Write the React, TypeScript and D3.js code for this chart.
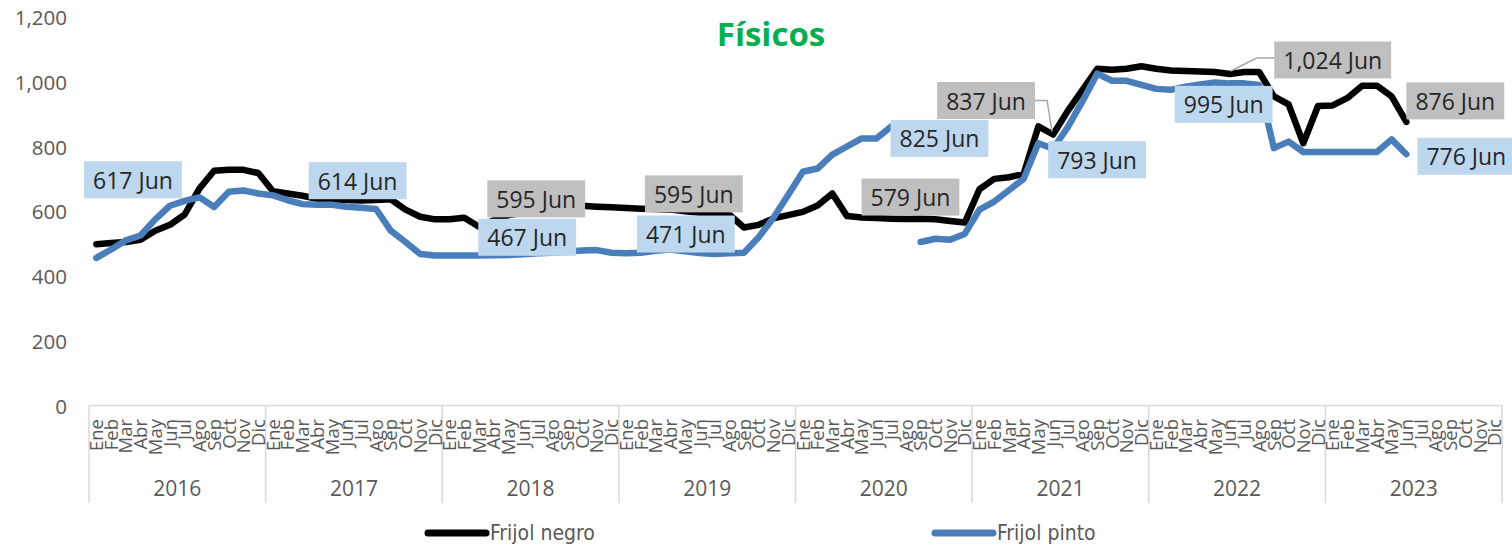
import React, { useEffect, useRef } from "react";
import * as d3 from "d3";

// --- data ---
const years = ["2016", "2017", "2018", "2019", "2020", "2021", "2022", "2023"];
const months = ["Ene", "Feb", "Mar", "Abr", "May", "Jun", "Jul", "Ago", "Sep", "Oct", "Nov", "Dic"];

// Frijol negro, monthly from Ene 2016 to Jun 2023
const negro = [
  498, 502, 505, 512, 540, 558, 590, 670, 725, 728, 728, 718,
  662, 655, 648, 638, 635, 635, 633, 635, 637, 605, 583, 575,
  575, 580, 552, 572, 588, 595, 605, 612, 617, 617, 614, 612,
  610, 608, 607, 605, 600, 595, 595, 590, 550, 558, 578, 588,
  598, 618, 655, 585, 581, 579, 577, 576, 577, 575, 570, 565,
  668, 700, 705, 715, 862, 837, 910, 975, 1040, 1037, 1040, 1048,
  1040, 1035, 1033, 1032, 1030, 1024, 1030, 1030, 955, 930, 810, 925,
  927, 950, 988, 988, 955, 876,
];

// Frijol pinto (Ago 2020 missing)
const pinto = [
  456, 482, 510, 525, 575, 617, 632, 643, 613, 660, 664, 655,
  649, 634, 622, 620, 620, 614, 611, 607, 540, 505, 468, 463,
  463, 463, 463, 464, 465, 467, 470, 472, 476, 479, 480, 472,
  470, 472, 478, 482, 476, 471, 468, 470, 472, 520, 580, 650,
  722, 732, 775, 800, 825, 825, 862, null, 505, 515, 512, 530,
  605, 630, 665, 700, 810, 793, 860, 940, 1025, 1003, 1003, 990,
  978, 975, 985, 992, 998, 995, 995, 990, 795, 815, 783, 783,
  783, 783, 783, 783, 822, 776,
];

const yTicks = [0, 200, 400, 600, 800, 1000, 1200];

// which June points carry a value label (offsets are layout only)
const junLabels = [
  { year: "2016", series: "pinto", dx: -37, dy: -26 },
  { year: "2017", series: "pinto", dx: 11, dy: -26 },
  { year: "2018", series: "negro", dx: 13, dy: -14 },
  { year: "2018", series: "pinto", dx: 4, dy: -17 },
  { year: "2019", series: "negro", dx: -6, dy: -19 },
  { year: "2019", series: "pinto", dx: -14, dy: -19 },
  { year: "2020", series: "negro", dx: 34, dy: -21 },
  { year: "2020", series: "pinto", dx: 63, dy: 0 },
  { year: "2021", series: "negro", dx: -67, dy: -34, leader: true },
  { year: "2021", series: "pinto", dx: 44, dy: 11 },
  { year: "2022", series: "negro", dx: 103, dy: -14, leader: true },
  { year: "2022", series: "pinto", dx: -6, dy: 21 },
  { year: "2023", series: "negro", dx: 49, dy: -21 },
  { year: "2023", series: "pinto", dx: 60, dy: 2 },
];

const FONT = "'Open Sans', 'Noto Sans', sans-serif";
const GREY = "#595959";

export default function App() {
  const svgRef = useRef<SVGSVGElement>(null);

  useEffect(() => {
    document.body.style.margin = "0";
    const svg = d3.select(svgRef.current);
    svg.selectAll("*").remove();

    const cats = years.flatMap((yr) => months.map((m) => `${m}-${yr}`));
    const x = d3.scalePoint<string>().domain(cats).range([89, 1502]).padding(0.5);
    const y = d3.scaleLinear().domain([0, 1200]).range([405.5, 17]);
    const step = x.step();

    const series = {
      negro: { values: negro, color: "#000000", box: "#bfbfbf" },
      pinto: { values: pinto, color: "#4a7ebb", box: "#bdd7ee" },
    };

    // --- title ---
    svg.append("text")
      .attr("x", 771).attr("y", 33)
      .attr("text-anchor", "middle").attr("dominant-baseline", "central")
      .attr("font-family", FONT).attr("font-weight", 700).attr("font-size", 33)
      .attr("fill", "#00b050")
      .text("Físicos");

    // --- y labels ---
    svg.append("g").selectAll("text")
      .data(yTicks)
      .join("text")
      .attr("x", 67).attr("y", (d) => y(d))
      .attr("text-anchor", "end").attr("dominant-baseline", "central")
      .attr("font-family", FONT).attr("font-size", 20.5).attr("fill", GREY)
      .text((d) => d3.format(",")(d));

    // --- x axis ---
    const ax = svg.append("g");
    const x0 = x(cats[0])! - step / 2;
    const x1 = x(cats[cats.length - 1])! + step / 2;
    ax.append("line")
      .attr("x1", x0).attr("x2", x1).attr("y1", y(0)).attr("y2", y(0))
      .attr("stroke", "#d9d9d9").attr("stroke-width", 1.5);

    const bounds = years.map((yr) => x(`Ene-${yr}`)! - step / 2).concat([x1]);
    ax.selectAll(".sep")
      .data(bounds)
      .join("line")
      .attr("class", "sep")
      .attr("x1", (d) => d).attr("x2", (d) => d)
      .attr("y1", y(0)).attr("y2", 503)
      .attr("stroke", "#d9d9d9").attr("stroke-width", 1.5);

    ax.selectAll(".mon")
      .data(cats)
      .join("text")
      .attr("class", "mon")
      .attr("transform", (d) => `translate(${x(d)},419) rotate(-90)`)
      .attr("dy", "0.36em")
      .attr("text-anchor", "end")
      .attr("font-family", FONT).attr("font-size", 18.5).attr("fill", GREY)
      .text((d) => d.split("-")[0]);

    ax.selectAll(".yr")
      .data(years)
      .join("text")
      .attr("class", "yr")
      .attr("x", (d) => x(`Ene-${d}`)! - step / 2 + step * 6)
      .attr("y", 488)
      .attr("text-anchor", "middle").attr("dominant-baseline", "central")
      .attr("font-family", FONT).attr("font-size", 21).attr("fill", GREY)
      .text((d) => d);

    // --- lines ---
    const line = d3.line<number | null>()
      .defined((d) => d != null)
      .x((_, i) => x(cats[i])!)
      .y((d) => y(d as number));

    Object.values(series).forEach((s) => {
      svg.append("path")
        .datum(s.values)
        .attr("d", line)
        .attr("fill", "none")
        .attr("stroke", s.color)
        .attr("stroke-width", 6.5)
        .attr("stroke-linejoin", "round")
        .attr("stroke-linecap", "round");
    });

    // --- june labels ---
    const lg = svg.append("g");
    junLabels.forEach((l) => {
      const s = series[l.series as "negro" | "pinto"];
      const idx = cats.indexOf(`Jun-${l.year}`);
      const v = s.values[idx] as number;
      const px = x(cats[idx])!;
      const py = y(v);
      const cx = px + l.dx;
      const cy = py + l.dy;
      const g = lg.append("g");
      const rect = g.append("rect").attr("fill", s.box);
      const t = g.append("text")
        .attr("x", cx).attr("y", cy)
        .attr("text-anchor", "middle").attr("dominant-baseline", "central")
        .attr("font-family", FONT).attr("font-size", 23).attr("fill", "#262626")
        .text(`${d3.format(",")(v)} Jun`);
      const w = (t.node() as SVGTextElement).getComputedTextLength() + 18;
      const h = 37;
      rect.attr("x", cx - w / 2).attr("y", cy - h / 2).attr("width", w).attr("height", h);
      if (l.leader) {
        const side = px > cx ? cx + w / 2 : cx - w / 2;
        const dir = px > cx ? 1 : -1;
        const ly = l.dx > 0 ? cy - 2 : cy;
        const elbow = l.dx > 0 ? px + 27 : px - 6;
        g.insert("path", "rect")
          .attr("d", d3.line()([[side, ly], [elbow, ly], [px - dir, py - 3]]))
          .attr("fill", "none").attr("stroke", "#a6a6a6").attr("stroke-width", 1.5);
      }
    });

    // --- legend ---
    const legend = [
      { name: "Frijol negro", color: series.negro.color, x: 428 },
      { name: "Frijol pinto", color: series.pinto.color, x: 935 },
    ];
    const leg = svg.append("g").selectAll("g").data(legend).join("g");
    leg.append("line")
      .attr("x1", (d) => d.x).attr("x2", (d) => d.x + 58)
      .attr("y1", 533).attr("y2", 533)
      .attr("stroke", (d) => d.color).attr("stroke-width", 7).attr("stroke-linecap", "round");
    leg.append("text")
      .attr("x", (d) => d.x + 62).attr("y", 533)
      .attr("dominant-baseline", "central")
      .attr("font-family", "'Liberation Sans Narrow', 'DejaVu Sans Condensed', 'Roboto', sans-serif")
      .attr("font-stretch", "condensed")
      .attr("font-size", 21).attr("fill", GREY)
      .text((d) => d.name);
  }, []);

  return (
    <svg
      ref={svgRef}
      width={1512}
      height={545}
      style={{ position: "absolute", left: 0, top: 0, background: "#fff" }}
    />
  );
}
